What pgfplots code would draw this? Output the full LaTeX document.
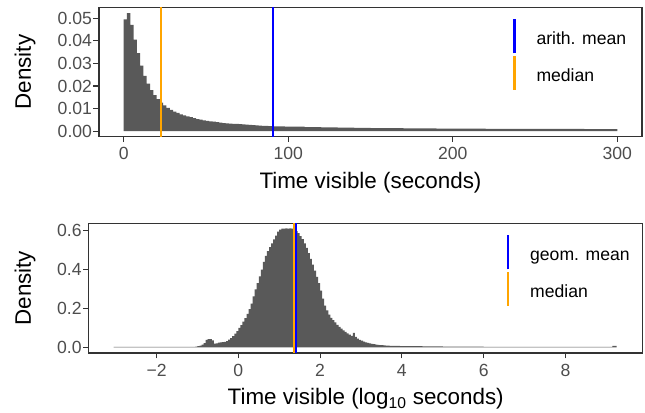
\documentclass[border=0pt]{standalone}
\usepackage{fontspec}
\setmainfont{Liberation Sans}
\usepackage{pgfplots}
\pgfplotsset{compat=1.18}
\definecolor{histgrey}{HTML}{595959}
\definecolor{ticktext}{HTML}{4D4D4D}
\definecolor{frame}{HTML}{333333}
\definecolor{myorange}{HTML}{FFA500}
\definecolor{myblue}{HTML}{0000FF}

\pgfplotsset{
  panel/.style={
    scale only axis,
    scaled x ticks=false, scaled y ticks=false,
    axis line style={frame, line width=1.07bp},
    tick align=outside,
    xtick pos=left, ytick pos=left,
    major tick length=5.5bp,
    every tick/.style={frame, line width=1.07bp},
    tick label style={font=\fontsize{17.6bp}{20bp}\selectfont, text=ticktext},
    xticklabel style={yshift=-2bp},
    yticklabel style={xshift=2bp},
    every axis label/.append style={font=\fontsize{22.4bp}{26bp}\selectfont, text=black},
    legend style={draw=none, fill=none, inner sep=0pt, outer sep=0pt, row sep=0pt, column sep=21bp,
      anchor=north west, font=\fontsize{17.6bp}{20bp}\selectfont,
      nodes={inner sep=0pt, text height=25.5bp, text depth=8.5bp}},
    legend image code/.code={\draw[##1] (0bp,-17bp) -- (0bp,17bp);},
    legend cell align=left,
  }
}

\pgfplotstableread{
x y
0 0.0495
2 0.0522
4 0.0470
6 0.0405
8 0.0345
10 0.0290
12 0.0245
14 0.0210
16 0.0182
18 0.0160
20 0.0142
22 0.0127
24 0.0114
26 0.0103
28 0.0094
30 0.0087
32 0.0081
34 0.0075
36 0.0070
38 0.0066
40 0.0062
42 0.0058
44 0.0054
46 0.0051
48 0.0048
50 0.0046
52 0.0044
54 0.0042
56 0.0040
58 0.0038
60 0.0036
62 0.0035
64 0.0034
66 0.0033
68 0.0032
70 0.0031
72 0.0030
74 0.0029
76 0.0028
78 0.0027
80 0.0026
82 0.0025
84 0.0024
86 0.0024
88 0.0023
90 0.0022
92 0.0022
94 0.0021
96 0.0021
98 0.0020
100 0.0020
110 0.0018
120 0.0017
130 0.0016
140 0.0015
150 0.0014
160 0.0014
170 0.0013
180 0.0013
190 0.0012
200 0.0012
220 0.0011
240 0.0011
260 0.0010
280 0.0009
300 0.0009
}\toptable

\pgfplotstableread{
x y
-3.05 0.002
-1.10 0.003
-1.05 0.004
-1.00 0.006
-0.95 0.009
-0.90 0.014
-0.85 0.022
-0.80 0.038
-0.75 0.042
-0.70 0.042
-0.65 0.036
-0.60 0.019
-0.55 0.021
-0.50 0.024
-0.45 0.026
-0.40 0.027
-0.35 0.028
-0.30 0.032
-0.25 0.040
-0.20 0.048
-0.15 0.058
-0.10 0.070
-0.05 0.084
0.00 0.100
0.05 0.114
0.10 0.132
0.15 0.150
0.20 0.172
0.25 0.196
0.30 0.225
0.35 0.262
0.40 0.298
0.45 0.330
0.50 0.365
0.55 0.400
0.60 0.440
0.65 0.470
0.70 0.495
0.75 0.515
0.80 0.535
0.85 0.555
0.90 0.575
0.95 0.595
1.00 0.605
1.05 0.610
1.10 0.611
1.15 0.612
1.20 0.610
1.25 0.612
1.30 0.611
1.35 0.608
1.40 0.598
1.45 0.588
1.50 0.572
1.55 0.556
1.60 0.535
1.65 0.512
1.70 0.485
1.75 0.455
1.80 0.425
1.85 0.395
1.90 0.362
1.95 0.330
2.00 0.292
2.05 0.250
2.10 0.215
2.15 0.190
2.20 0.168
2.25 0.152
2.30 0.140
2.35 0.128
2.40 0.116
2.45 0.105
2.50 0.096
2.55 0.087
2.60 0.079
2.65 0.072
2.70 0.065
2.75 0.059
2.80 0.075
2.85 0.054
2.90 0.045
2.95 0.039
3.00 0.034
3.05 0.030
3.10 0.026
3.15 0.023
3.20 0.020
3.25 0.018
3.30 0.016
3.35 0.014
3.40 0.013
3.45 0.012
3.50 0.011
3.55 0.010
3.60 0.009
3.65 0.0085
3.70 0.008
3.75 0.0078
3.80 0.0075
3.85 0.0072
3.90 0.007
3.95 0.0068
4.00 0.006
4.50 0.005
5.00 0.004
6.00 0.003
9.15 0.007
9.25 0.007
}\bottable

\begin{document}
\begin{tikzpicture}
\useasboundingbox (0,0) rectangle (645bp,413bp);
% top panel
\begin{axis}[panel,
  at={(99bp,276.3bp)}, anchor=south west,
  width=543bp, height=129.4bp,
  xmin=-15, xmax=315, ymin=-0.0024, ymax=0.0548,
  xtick={0,100,200,300},
  ytick={0,0.01,0.02,0.03,0.04,0.05},
  yticklabels={0.00,0.01,0.02,0.03,0.04,0.05},
  xticklabels={0,100,200,300},
  xlabel={Time visible (seconds)},
  ylabel={Density},
  xlabel style={at={(axis description cs:0.5,-0.354)}, anchor=center},
  ylabel style={at={(axis description cs:-0.1363,0.5)}, anchor=center},
  legend style={at={(axis description cs:0.763,0.915)}},
]
\addplot[fill=histgrey, draw=none, const plot, forget plot] table {\toptable} \closedcycle;
\addplot[myorange, line width=1.8bp, forget plot] coordinates {(22.5,-1) (22.5,1)};
\addplot[myblue, line width=1.8bp, forget plot] coordinates {(90.6,-1) (90.6,1)};
\addlegendimage{myblue, line width=2.2bp}
\addlegendentry{arith. mean}
\addlegendimage{myorange, line width=2.2bp}
\addlegendentry{median}
\end{axis}
% bottom panel
\begin{axis}[panel,
  at={(88.7bp,60bp)}, anchor=south west,
  width=554bp, height=129.7bp,
  xmin=-3.66, xmax=9.89, ymin=-0.029, ymax=0.638,
  xtick={-2,0,2,4,6,8},
  xticklabels={−2,0,2,4,6,8},
  ytick={0,0.2,0.4,0.6},
  yticklabels={0.0,0.2,0.4,0.6},
  xlabel={Time visible (log\textsubscript{10} seconds)},
  ylabel={Density},
  xlabel style={at={(axis description cs:0.5,-0.355)}, anchor=center},
  ylabel style={at={(axis description cs:-0.115,0.5)}, anchor=center},
  legend style={at={(axis description cs:0.755,0.915)}},
]
\addplot[fill=histgrey, draw=none, const plot, forget plot] table {\bottable} \closedcycle;
\addplot[myorange, line width=1.8bp, forget plot] coordinates {(1.37,-1) (1.37,1)};
\addplot[myblue, line width=1.8bp, forget plot] coordinates {(1.41,-1) (1.41,1)};
\addlegendimage{myblue, line width=2.2bp}
\addlegendentry{geom. mean}
\addlegendimage{myorange, line width=2.2bp}
\addlegendentry{median}
\end{axis}
\end{tikzpicture}
\end{document}
